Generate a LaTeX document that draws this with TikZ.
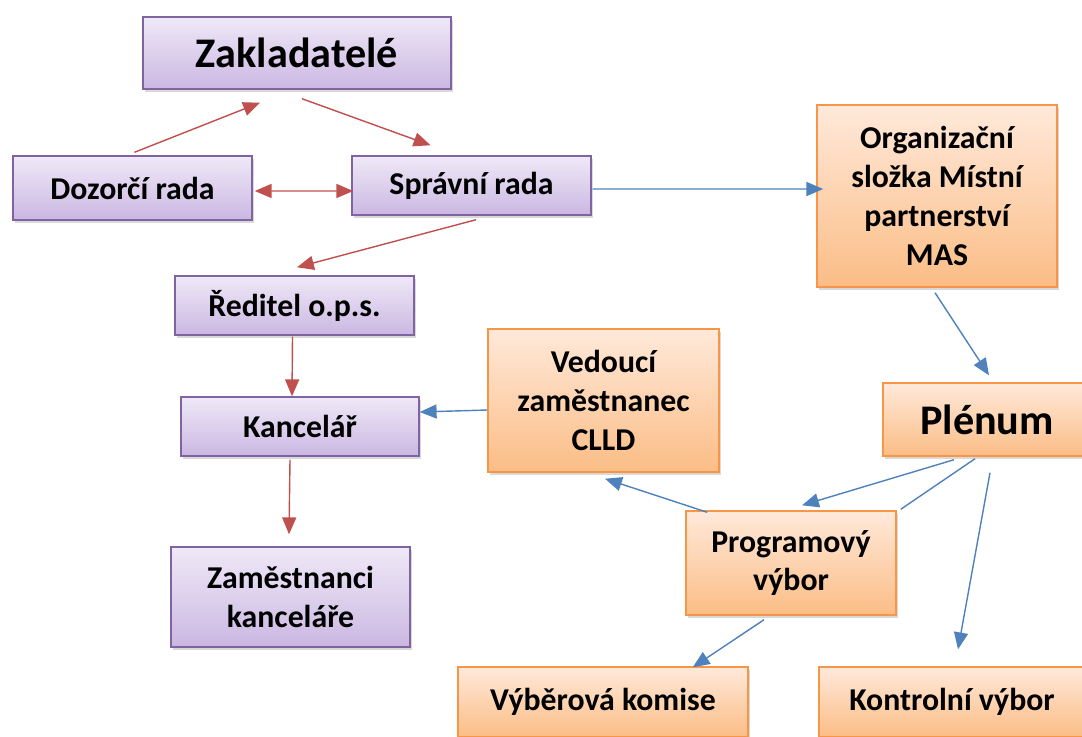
\documentclass[tikz,border=0pt]{standalone}
\usepackage{fontspec}
\setmainfont{Carlito}
\usetikzlibrary{arrows.meta, calc, shadows}

\definecolor{lilaline}{HTML}{8064A2}
\definecolor{lilatop}{HTML}{EFE9F7}
\definecolor{lilabot}{HTML}{CBB7E2}
\definecolor{oranzline}{HTML}{F79646}
\definecolor{oranztop}{HTML}{FFE9DA}
\definecolor{oranzbot}{HTML}{FBBD86}
\definecolor{redcol}{HTML}{C0504D}
\definecolor{bluecol}{HTML}{4F81BD}

\begin{document}
\begin{tikzpicture}[
		x=0.025cm, y=-0.025cm,
		box/.style={draw, line width=1pt, align=center, inner sep=0pt,
			font=\fontsize{22.6}{27.6}\selectfont\bfseries,
			drop shadow={opacity=0.3, shadow xshift=1.5pt, shadow yshift=-2pt}},
		lila/.style={box, draw=lilaline, top color=lilatop, bottom color=lilabot},
		oranz/.style={box, draw=oranzline, top color=oranztop, bottom color=oranzbot},
		big/.style={font=\fontsize{30}{34}\selectfont\bfseries},
		redarrow/.style={-{Triangle[length=12pt, width=10pt]}, redcol, line width=1pt},
		redboth/.style={{Triangle[length=12pt, width=10pt]}-{Triangle[length=12pt, width=10pt]}, redcol, line width=1pt},
		bluearrow/.style={-{Triangle[length=12pt, width=10pt]}, bluecol, line width=1pt},
		blueplain/.style={bluecol, line width=1pt}
		]
		
		\useasboundingbox (0,0) rectangle (1082,736);
		\clip (0,0) rectangle (1082,736);
		
		% Nodes
		\node[lila, big, minimum width=7.7cm, minimum height=1.8cm] (zakl) at (297,53) {Zakladatelé};
		\node[lila, minimum width=5.975cm, minimum height=1.6cm] (dozor) at (132.5,188) {Dozorčí rada};
		\node[lila, minimum width=5.975cm, minimum height=1.475cm] (sprava) at (471.5,185.5) {Správní rada};
		\node[lila, minimum width=5.975cm, minimum height=1.475cm] (reditel) at (294.5,305.5) {Ředitel o.p.s.};
		\node[lila, minimum width=5.95cm, minimum height=1.475cm] (kancl) at (300,426.5) {Kancelář};
		\node[lila, minimum width=5.975cm, minimum height=2.5cm] (zames) at (290.5,597) {Zaměstnanci\\kanceláře};
		
		\node[oranz, minimum width=6cm, minimum height=4.55cm] (org) at (937,196) {Organizační\\složka Místní\\partnerství\\MAS};
		\node[oranz, minimum width=5.775cm, minimum height=3.575cm] (vedouci) at (603.5,400.5) {Vedoucí\\zaměstnanec\\CLLD};
		\node[oranz, big, minimum width=5.2cm, minimum height=1.825cm] (plenum) at (987,419.5) {Plénum};
		\node[oranz, minimum width=5.25cm, minimum height=2.6cm] (program) at (791,563) {Programový\\výbor};
		\node[oranz, minimum width=7.25cm, minimum height=1.75cm] (vyber) at (603,702) {Výběrová komise};
		\node[oranz, minimum width=6.65cm, minimum height=1.75cm] (kontrol) at (952,702) {Kontrolní výbor};
		
		% Arrows
		\draw[redarrow] ($(dozor.north)+(2,-3)$) -- ($(zakl.south)+(-37,13)$);
		\draw[redarrow] ($(zakl.south)+(5,9)$) -- ($(sprava.north)+(-41,-10)$);
		\draw[redboth] ($(dozor.east)+(2,3)$) -- ($(sprava.west)+(2,5.5)$);
		\draw[redarrow] ($(sprava.south)+(4.5,4)$) -- ($(reditel.north)+(2.5,-8)$);
		\draw[redarrow] ($(reditel.south)+(-2,1)$) -- ($(kancl.north)+(-8,0)$);
		\draw[redarrow] ($(kancl.south)+(-10,3)$) -- ($(zames.north)+(-1.5,-12)$);
		
		\draw[bluearrow] ($(sprava.east)+(1,3.5)$) -- ($(org.west)+(7,-7)$);
		\draw[bluearrow] ($(org.south)+(-2,5)$) -- ($(plenum.north)+(2,-7)$);
		\draw[bluearrow] ($(vedouci.west)+(0,9.5)$) -- ($(kancl.east)+(0,-14.5)$);
		\draw[bluearrow] ($(plenum.south)+(-33,3)$) -- ($(program.north)+(11,-5)$);
		\draw[blueplain] ($(plenum.south)+(-12,2)$) -- ($(program.north east)+(4,-1)$);
		\draw[bluearrow] ($(plenum.south)+(3,16)$) -- ($(kontrol.north)+(6,-17)$);
		\draw[bluearrow] ($(program.north west)+(22,2)$) -- ($(vedouci.south)+(1.5,6)$);
		\draw[bluearrow] ($(program.south)+(-27,4)$) -- ($(vyber.north east)+(-56,1)$);
		
	\end{tikzpicture}
\end{document}
